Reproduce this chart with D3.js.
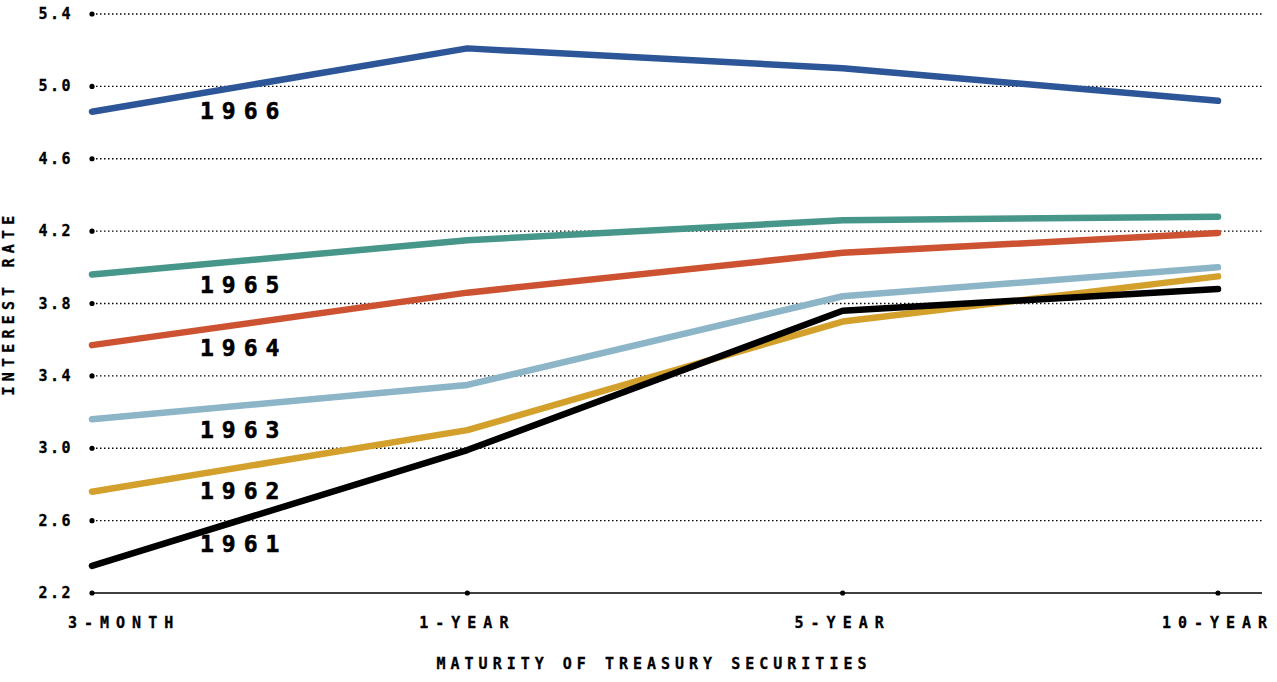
<!DOCTYPE html>
<html>

<head>
    <title>Yield curves 1961-1966</title>
    <script src="https://d3js.org/d3.v7.min.js"></script>
    <style>
        body { margin: 0; background: #fff; }
        text { font-family: 'DejaVu Sans Mono', monospace; font-weight: bold; fill: #000; }
    </style>
</head>

<body>
    <script>
        const maturities = ['3-MONTH', '1-YEAR', '5-YEAR', '10-YEAR']
        const years = ['1966', '1965', '1964', '1963', '1962', '1961']
        const rates1966 = [4.86, 5.21, 5.10, 4.92]
        const rates1965 = [3.96, 4.15, 4.26, 4.28]
        const rates1964 = [3.57, 3.86, 4.08, 4.19]
        const rates1963 = [3.16, 3.35, 3.84, 4.00]
        const rates1962 = [2.76, 3.10, 3.70, 3.95]
        const rates1961 = [2.35, 2.99, 3.76, 3.88]
        const yTicks = [2.2, 2.6, 3.0, 3.4, 3.8, 4.2, 4.6, 5.0, 5.4]

        const msm = { width: 1277, height: 682 }
        const margin = { left: 92, right: 59, top: 14, bottom: 89 }

        const series = [
            { year: years[0], values: rates1966, color: '#2c5697' },
            { year: years[1], values: rates1965, color: '#46968a' },
            { year: years[2], values: rates1964, color: '#cd5232' },
            { year: years[3], values: rates1963, color: '#8db5c8' },
            { year: years[4], values: rates1962, color: '#d4a02c' },
            { year: years[5], values: rates1961, color: '#000000' }
        ]

        let svg = d3.select('body')
            .append('svg')
            .attr('width', msm.width)
            .attr('height', msm.height)

        let x = d3.scalePoint()
            .domain(maturities)
            .range([margin.left, 1218])

        let y = d3.scaleLinear()
            .domain([2.2, 5.4])
            .range([msm.height - margin.bottom, margin.top])

        // dotted gridlines
        svg.append('g')
            .selectAll('line')
            .data(yTicks.slice(1))
            .enter()
            .append('line')
            .attr('x1', margin.left)
            .attr('x2', msm.width - 15)
            .attr('y1', d => y(d))
            .attr('y2', d => y(d))
            .attr('stroke', '#000')
            .attr('stroke-width', 1.3)
            .attr('stroke-dasharray', '1.5 2.5')

        // baseline
        svg.append('line')
            .attr('x1', margin.left)
            .attr('x2', msm.width - 15)
            .attr('y1', y(2.2))
            .attr('y2', y(2.2))
            .attr('stroke', '#000')
            .attr('stroke-width', 1.5)

        // tick dots
        svg.append('g')
            .selectAll('circle')
            .data(yTicks)
            .enter()
            .append('circle')
            .attr('cx', margin.left)
            .attr('cy', d => y(d))
            .attr('r', 2.6)

        svg.append('g')
            .selectAll('circle')
            .data(maturities.slice(1))
            .enter()
            .append('circle')
            .attr('cx', d => x(d))
            .attr('cy', y(2.2))
            .attr('r', 2.6)

        // tick labels
        svg.append('g')
            .selectAll('text')
            .data(yTicks)
            .enter()
            .append('text')
            .attr('x', 73)
            .attr('y', d => y(d) + 5)
            .attr('text-anchor', 'end')
            .attr('font-size', 15)
            .attr('letter-spacing', 2.5)
            .attr('stroke', '#000')
            .attr('stroke-width', 0.3)
            .text(d => d.toFixed(1))

        svg.append('g')
            .selectAll('text')
            .data(maturities)
            .enter()
            .append('text')
            .attr('x', (d, i) => i === 0 ? x(d) - 24 : x(d))
            .attr('y', 628)
            .attr('text-anchor', (d, i) => i === 0 ? 'start' : 'middle')
            .attr('font-size', 15)
            .attr('letter-spacing', 7)
            .attr('stroke', '#000')
            .attr('stroke-width', 0.3)
            .text(d => d)

        // axis titles
        svg.append('text')
            .attr('x', 654)
            .attr('y', 669)
            .attr('text-anchor', 'middle')
            .attr('font-size', 15)
            .attr('letter-spacing', 5)
            .attr('stroke', '#000')
            .attr('stroke-width', 0.3)
            .text('MATURITY OF TREASURY SECURITIES')

        svg.append('text')
            .attr('transform', 'translate(14,303) rotate(-90)')
            .attr('text-anchor', 'middle')
            .attr('font-size', 15)
            .attr('letter-spacing', 5.2)
            .attr('stroke', '#000')
            .attr('stroke-width', 0.3)
            .text('INTEREST RATE')

        // lines
        let line = d3.line()
            .x((d, i) => x(maturities[i]))
            .y(d => y(d))

        svg.append('g')
            .selectAll('path')
            .data(series)
            .enter()
            .append('path')
            .attr('d', d => line(d.values))
            .attr('stroke', d => d.color)
            .attr('stroke-width', 6.5)
            .attr('stroke-linecap', 'round')
            .attr('stroke-linejoin', 'round')
            .attr('fill', 'none')

        // year labels, just under each line near the left end
        let labelX = 200
        let t = (labelX + 40 - x(maturities[0])) / (x(maturities[1]) - x(maturities[0]))
        svg.append('g')
            .selectAll('text')
            .data(series)
            .enter()
            .append('text')
            .attr('x', labelX)
            .attr('y', d => y(d.values[0] + (d.values[1] - d.values[0]) * t) + 32)
            .attr('font-size', 23)
            .attr('letter-spacing', 8)
            .attr('stroke', '#000')
            .attr('stroke-width', 0.6)
            .text(d => d.year)
    </script>
</body>
</html>
